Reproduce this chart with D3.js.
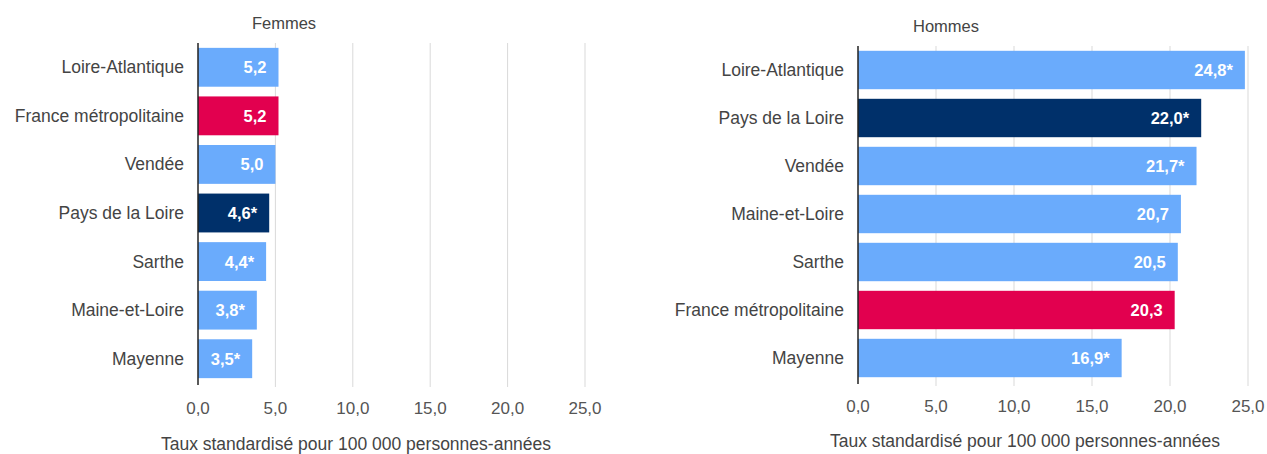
<!DOCTYPE html>
<html>
<head>
<meta charset="utf-8">
<script src="https://cdn.jsdelivr.net/npm/d3@7"></script>
<style>
body { margin: 0; background: #fff; }
text { font-family: "Liberation Sans", Arial, sans-serif; }
</style>
</head>
<body>
<script>
// Data
var femmesCats = ["Loire-Atlantique", "France métropolitaine", "Vendée", "Pays de la Loire", "Sarthe", "Maine-et-Loire", "Mayenne"];
var femmesVals = [5.2, 5.2, 5.0, 4.6, 4.4, 3.8, 3.5];
var femmesStar = [false, false, false, true, true, true, true];

var hommesCats = ["Loire-Atlantique", "Pays de la Loire", "Vendée", "Maine-et-Loire", "Sarthe", "France métropolitaine", "Mayenne"];
var hommesVals = [24.8, 22.0, 21.7, 20.7, 20.5, 20.3, 16.9];
var hommesStar = [true, true, true, false, false, false, true];

var xTicks = [0, 5, 10, 15, 20, 25];
var axisTitle = "Taux standardisé pour 100 000 personnes-années";

var colLight = "#6aabfc", colFrance = "#e2004f", colRegion = "#00306a";

function barColor(name) {
  if (name == "France métropolitaine") return colFrance;
  if (name == "Pays de la Loire") return colRegion;
  return colLight;
}

var fmt = function(v) { return d3.format(".1f")(v).replace(".", ","); };

var svg = d3.select("body").append("svg")
    .attr("width", 1267)
    .attr("height", 454);

function drawPanel(opt) {
  var g = svg.append("g");

  var x = d3.scaleLinear().domain([0, 25]).range([opt.x0, opt.x0 + opt.per5 * 5]);
  var y = d3.scaleBand().domain(opt.cats).range([opt.top, opt.bottom]).paddingInner(0.2).paddingOuter(0.1);

  // gridlines
  g.selectAll(".grid").data(xTicks.slice(1)).enter().append("line")
    .attr("x1", function(d) { return x(d); })
    .attr("x2", function(d) { return x(d); })
    .attr("y1", opt.top)
    .attr("y2", opt.bottom + 4)
    .attr("stroke", "#d9d9d9")
    .attr("stroke-width", 1);

  // bars
  g.selectAll(".bar").data(opt.vals).enter().append("rect")
    .attr("x", x(0))
    .attr("y", function(d, i) { return y(opt.cats[i]); })
    .attr("width", function(d) { return x(d) - x(0); })
    .attr("height", y.bandwidth())
    .attr("fill", function(d, i) { return barColor(opt.cats[i]); });

  // value labels
  g.selectAll(".val").data(opt.vals).enter().append("text")
    .attr("x", function(d) { return x(d) - 12; })
    .attr("y", function(d, i) { return y(opt.cats[i]) + y.bandwidth() / 2 + 6; })
    .attr("text-anchor", "end")
    .attr("fill", "#fff")
    .attr("font-weight", "bold")
    .attr("font-size", "16.5px")
    .text(function(d, i) { return fmt(d) + (opt.star[i] ? "*" : ""); });

  // category labels
  g.selectAll(".cat").data(opt.cats).enter().append("text")
    .attr("x", opt.x0 - 14)
    .attr("y", function(d) { return y(d) + y.bandwidth() / 2 + 6; })
    .attr("text-anchor", "end")
    .attr("fill", "#444")
    .attr("font-size", "17.5px")
    .text(function(d) { return d; });

  // baseline
  g.append("line")
    .attr("x1", x(0)).attr("x2", x(0))
    .attr("y1", opt.top).attr("y2", opt.bottom + 2)
    .attr("stroke", "#222")
    .attr("stroke-width", 1.5);

  // tick labels
  g.selectAll(".tick").data(xTicks).enter().append("text")
    .attr("x", function(d) { return x(d); })
    .attr("y", opt.tickY)
    .attr("text-anchor", "middle")
    .attr("fill", "#555")
    .attr("font-size", "17px")
    .text(function(d) { return fmt(d); });

  // axis title
  g.append("text")
    .attr("x", opt.titleX)
    .attr("y", opt.axisTitleY)
    .attr("text-anchor", "middle")
    .attr("fill", "#444")
    .attr("font-size", "17.5px")
    .text(axisTitle);

  // panel title
  g.append("text")
    .attr("x", opt.headX)
    .attr("y", opt.headY)
    .attr("text-anchor", "middle")
    .attr("fill", "#444")
    .attr("font-size", "16.5px")
    .text(opt.head);
}

drawPanel({
  cats: femmesCats, vals: femmesVals, star: femmesStar,
  x0: 198, per5: 77.4, top: 43, bottom: 383,
  tickY: 414, axisTitleY: 450, titleX: 356,
  head: "Femmes", headX: 284, headY: 29
});

drawPanel({
  cats: hommesCats, vals: hommesVals, star: hommesStar,
  x0: 858, per5: 78, top: 46, bottom: 382,
  tickY: 412, axisTitleY: 447, titleX: 1025,
  head: "Hommes", headX: 946, headY: 32
});
</script>
</body>
</html>
